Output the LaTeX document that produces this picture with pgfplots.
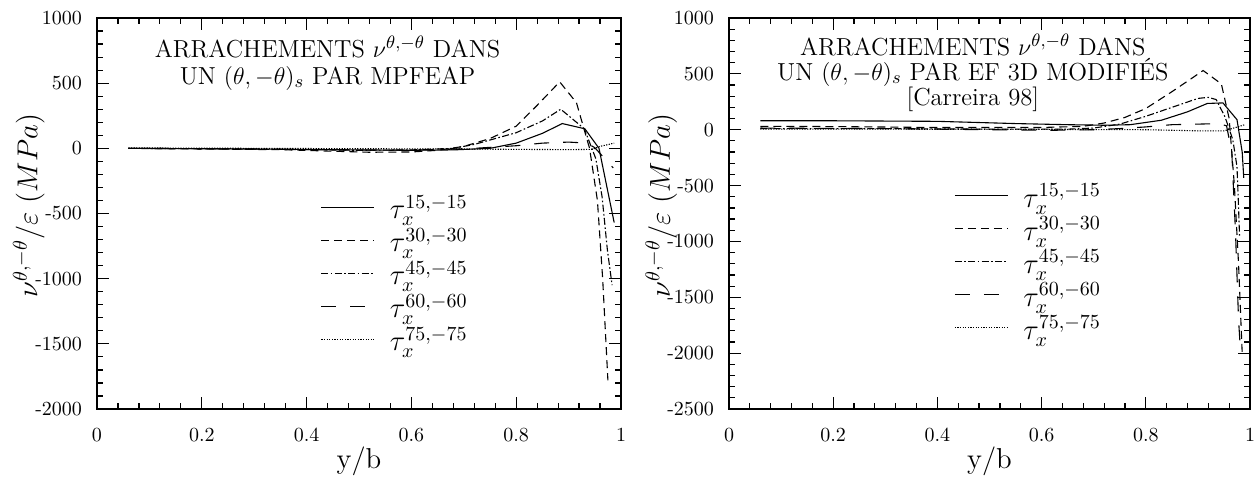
\documentclass[border=0pt]{standalone}
\usepackage{pgfplots}
\pgfplotsset{compat=1.18}
\pgfplotsset{
  myax/.style={
    anchor=south west, scale only axis,
    width=262pt, height=195.5pt,
    xmin=0, xmax=1,
    xtick={0,0.2,0.4,0.6,0.8,1},
    xticklabels={0,0.2,0.4,0.6,0.8,1},
    minor x tick num=4, minor y tick num=4,
    tick align=inside,
    major tick length=6pt, minor tick length=3pt,
    tick style={black, line width=0.6pt},
    axis line style={line width=0.7pt},
    xticklabel style={yshift=-6pt, font=\normalsize},
    yticklabel style={xshift=-4pt, font=\normalsize},
    xlabel={y/b}, ylabel={$\nu^{\theta,-\theta}/\varepsilon\ (MPa)$},
    xlabel style={at={(axis description cs:0.5,-0.135)}, anchor=center, font=\Large},
    ylabel style={at={(axis description cs:-0.13,0.52)}, anchor=center, rotate=0, font=\Large},
    legend cell align=left,
    legend image code/.code={\draw[##1] (0pt,3pt) -- (26.5pt,3pt); \path (34pt,0pt);},
    legend style={draw=none, fill=none, anchor=north west, font=\Large,
      nodes={inner sep=0pt, text height=11pt, text depth=5.5pt}, row sep=0pt},
    every axis plot/.append style={line width=0.55pt, black},
  },
  s15/.style={solid},
  s30/.style={dash pattern=on 4pt off 2.5pt},
  s45/.style={dash pattern=on 3.5pt off 1.2pt on 0.8pt off 1.2pt},
  s60/.style={dash pattern=on 7.5pt off 7pt},
  s75/.style={dash pattern=on 0.6pt off 0.7pt},
}
\begin{document}
\begin{tikzpicture}
\useasboundingbox (0,0) rectangle (629pt,238.5pt);
\begin{axis}[myax, at={(48.5pt,34pt)},
  ymin=-2000, ymax=1000,
  ytick={-2000,-1500,-1000,-500,0,500,1000},
  yticklabels={-2000,-1500,-1000,-500,0,500,1000},
  legend style={at={(axis cs:0.415,-338)}}]
\addplot[s15] coordinates {(0.06,0) (0.2,-3) (0.4,-8) (0.5,-12) (0.6,-15) (0.68,-12) (0.75,0) (0.8,40) (0.85,115) (0.888,190) (0.931,150) (0.958,0) (0.987,-570)};
\addlegendentry{$\tau_x^{15,-15}$}
\addplot[s30] coordinates {(0.06,0) (0.2,-5) (0.35,-10) (0.45,-22) (0.52,-30) (0.6,-28) (0.65,-15) (0.7,15) (0.75,75) (0.8,170) (0.84,330) (0.883,510) (0.915,350) (0.94,0) (0.955,-400) (0.965,-1000) (0.975,-1780)};
\addlegendentry{$\tau_x^{30,-30}$}
\addplot[s45] coordinates {(0.06,0) (0.2,-3) (0.4,-10) (0.5,-15) (0.6,-12) (0.68,0) (0.72,30) (0.76,75) (0.8,120) (0.85,210) (0.885,300) (0.93,150) (0.952,-80) (0.964,-375) (0.974,-780) (0.983,-1050)};
\addlegendentry{$\tau_x^{45,-45}$}
\addplot[s60] coordinates {(0.06,0) (0.3,-5) (0.45,-12) (0.55,-15) (0.65,-10) (0.72,0) (0.8,20) (0.85,40) (0.9,48) (0.935,40) (0.95,5) (0.985,-150)};
\addlegendentry{$\tau_x^{60,-60}$}
\addplot[s75] coordinates {(0.06,3) (0.3,0) (0.5,-3) (0.7,-5) (0.8,-8) (0.9,-10) (0.945,-8) (0.96,15) (0.987,40)};
\addlegendentry{$\tau_x^{75,-75}$}
\node[anchor=north, align=center, inner sep=0pt, font=\fontsize{12.3}{13.5}\selectfont] at (axis description cs:0.44,0.955)
  {ARRACHEMENTS $\nu^{\theta,-\theta}$ DANS\\UN $(\theta,-\theta)_s$ PAR MPFEAP};
\end{axis}
\begin{axis}[myax, at={(364.5pt,34pt)}, width=260.5pt,
  ymin=-2500, ymax=1000,
  ytick={-2500,-2000,-1500,-1000,-500,0,500,1000},
  yticklabels={-2500,-2000,-1500,-1000,-500,0,500,1000},
  legend style={at={(axis cs:0.42,-457)}}]
\addplot[s15] coordinates {(0.06,80) (0.2,80) (0.4,75) (0.55,55) (0.65,45) (0.72,40) (0.77,45) (0.83,85) (0.88,160) (0.918,235) (0.948,240) (0.975,90) (0.985,-200) (0.988,-430)};
\addlegendentry{$\tau_x^{15,-15}$}
\addplot[s30] coordinates {(0.06,30) (0.2,28) (0.4,20) (0.6,20) (0.68,30) (0.72,60) (0.76,110) (0.8,190) (0.85,340) (0.885,450) (0.91,530) (0.945,410) (0.96,100) (0.97,-500) (0.978,-1200) (0.985,-2000)};
\addlegendentry{$\tau_x^{30,-30}$}
\addplot[s45] coordinates {(0.06,10) (0.3,10) (0.5,5) (0.65,5) (0.7,15) (0.75,50) (0.8,120) (0.85,200) (0.9,280) (0.92,290) (0.935,270) (0.952,115) (0.967,-90) (0.975,-330) (0.977,-565) (0.98,-960)};
\addlegendentry{$\tau_x^{45,-45}$}
\addplot[s60] coordinates {(0.06,15) (0.3,10) (0.5,0) (0.62,-5) (0.7,0) (0.75,10) (0.8,25) (0.85,45) (0.9,50) (0.94,55) (0.955,35) (0.965,-200) (0.972,-900) (0.978,-1700) (0.982,-2000)};
\addlegendentry{$\tau_x^{60,-60}$}
\addplot[s75] coordinates {(0.06,5) (0.3,5) (0.6,3) (0.8,0) (0.9,-10) (0.95,-10) (0.965,10) (0.99,45)};
\addlegendentry{$\tau_x^{75,-75}$}
\node[anchor=north, align=center, inner sep=0pt, font=\fontsize{12.3}{12.5}\selectfont] at (axis description cs:0.468,0.96)
  {ARRACHEMENTS $\nu^{\theta,-\theta}$ DANS\\UN $(\theta,-\theta)_s$ PAR EF 3D MODIFIÉS\\{[Carreira 98]}};
\end{axis}
\end{tikzpicture}
\end{document}
